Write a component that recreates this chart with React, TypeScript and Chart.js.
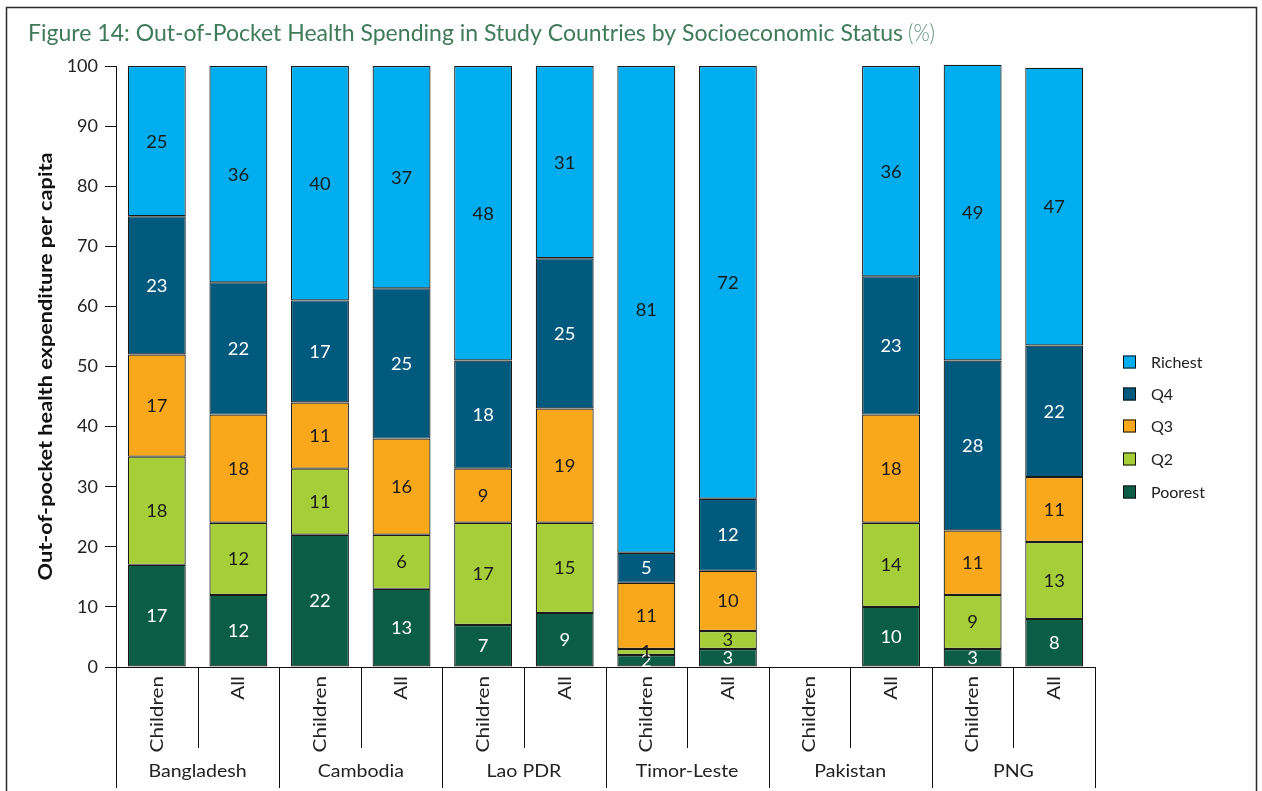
import React, { useEffect, useRef } from "react";
import { Chart, registerables } from "chart.js";
Chart.register(...registerables);

const COUNTRIES = ["Bangladesh", "Cambodia", "Lao PDR", "Timor-Leste", "Pakistan", "PNG"];
const GROUPS = ["Children", "All"];
const CATEGORIES = COUNTRIES.flatMap((c) => GROUPS.map((g) => `${c} ${g}`));

const SERIES = ["Poorest", "Q2", "Q3", "Q4", "Richest"];
const COLORS = ["#0b5e45", "#a6ce39", "#f9a81b", "#005a7e", "#00aeef"];
const LABEL_COLORS = ["#ffffff", "#1a1a1a", "#1a1a1a", "#ffffff", "#1a1a1a"];

// segment heights as drawn (%)
const POOREST = [17, 12, 22, 13, 7, 9, 2, 3, null, 10, 3, 8];
const Q2 = [18, 12, 11, 9, 17, 15, 1, 3, null, 14, 9, 12.8];
const Q3 = [17, 18, 11, 16, 9, 19, 11, 10, null, 18, 10.7, 10.8];
const Q4 = [23, 22, 17, 25, 18, 25, 5, 12, null, 23, 28.3, 21.9];
const RICHEST = [25, 36, 39, 37, 49, 32, 81, 72, null, 35, 49.2, 46.2];

// printed value labels
const POOREST_LBL = [17, 12, 22, 13, 7, 9, 2, 3, null, 10, 3, 8];
const Q2_LBL = [18, 12, 11, 6, 17, 15, 1, 3, null, 14, 9, 13];
const Q3_LBL = [17, 18, 11, 16, 9, 19, 11, 10, null, 18, 11, 11];
const Q4_LBL = [23, 22, 17, 25, 18, 25, 5, 12, null, 23, 28, 22];
const RICHEST_LBL = [25, 36, 40, 37, 48, 31, 81, 72, null, 36, 49, 47];

const VALUES = [POOREST, Q2, Q3, Q4, RICHEST];
const LABELS = [POOREST_LBL, Q2_LBL, Q3_LBL, Q4_LBL, RICHEST_LBL];

const TITLE = "Figure 14: Out-of-Pocket Health Spending in Study Countries by Socioeconomic Status";
const TITLE_UNIT = "(%)";
const Y_TITLE = "Out-of-pocket health expenditure per capita";
const Y_TICKS_MAX = 100;
const Y_STEP = 10;

const FONT = "Lato, 'DejaVu Sans', sans-serif";
const WIDE = 1.15;

const decoPlugin = {
  id: "deco",
  afterDatasetsDraw(chart: any) {
    const ctx = chart.ctx;
    ctx.save();
    ctx.textAlign = "center";
    ctx.textBaseline = "middle";
    ctx.font = `17px ${FONT}`;
    chart.data.datasets.forEach((ds: any, di: number) => {
      const meta = chart.getDatasetMeta(di);
      meta.data.forEach((el: any, i: number) => {
        const lbl = LABELS[di][i];
        if (lbl === null || lbl === undefined) return;
        ctx.fillStyle = LABEL_COLORS[di];
        ctx.save();
        ctx.translate(el.x, (el.y + el.base) / 2 + 1);
        ctx.scale(1.08, 1);
        ctx.fillText(String(lbl), 0, 0);
        ctx.restore();
      });
    });
    ctx.restore();
  },
  afterDraw(chart: any) {
    const ctx = chart.ctx;
    const { left, right, bottom } = chart.chartArea;
    const xs = chart.scales.x;
    ctx.save();
    // frame
    ctx.strokeStyle = "#2b2b2b";
    ctx.lineWidth = 1.5;
    ctx.beginPath();
    ctx.moveTo(6.5, 800);
    ctx.lineTo(6.5, 7.5);
    ctx.lineTo(1256.5, 7.5);
    ctx.lineTo(1256.5, 800);
    ctx.stroke();

    // title
    ctx.textBaseline = "alphabetic";
    ctx.textAlign = "left";
    ctx.font = `23px ${FONT}`;
    const mainW = ctx.measureText(TITLE).width;
    const sx = 875 / mainW;
    ctx.save();
    ctx.translate(28, 41);
    ctx.scale(sx, 1);
    ctx.fillStyle = "#3f7a5a";
    ctx.fillText(TITLE, 0, 0);
    ctx.restore();
    ctx.font = `300 23px ${FONT}`;
    const uW = ctx.measureText(TITLE_UNIT).width;
    ctx.save();
    ctx.translate(908, 41);
    ctx.scale(27 / uW, 1);
    ctx.fillStyle = "#5f9277";
    ctx.fillText(TITLE_UNIT, 0, 0);
    ctx.restore();

    // y title
    ctx.save();
    ctx.font = `bold 19px ${FONT}`;
    const yw = ctx.measureText(Y_TITLE).width;
    ctx.translate(46, (chart.chartArea.top + bottom) / 2);
    ctx.rotate(-Math.PI / 2);
    ctx.scale(428 / yw, 1);
    ctx.fillStyle = "#111";
    ctx.textAlign = "center";
    ctx.textBaseline = "middle";
    ctx.fillText(Y_TITLE, 0, 0);
    ctx.restore();

    // x axis line + separators
    ctx.strokeStyle = "#111";
    ctx.lineWidth = 1;
    const n = CATEGORIES.length;
    const slot = (right - left) / n;
    ctx.beginPath();
    ctx.moveTo(left, Math.round(bottom) + 0.5);
    ctx.lineTo(right, Math.round(bottom) + 0.5);
    for (let i = 0; i <= n; i++) {
      const xx = Math.round(left + i * slot) + 0.5;
      const long = i % GROUPS.length === 0;
      ctx.moveTo(xx, bottom);
      ctx.lineTo(xx, long ? 788 : 748);
    }
    ctx.stroke();

    // sub labels
    ctx.fillStyle = "#222";
    ctx.font = `18px ${FONT}`;
    CATEGORIES.forEach((c, i) => {
      const cx = xs.getPixelForValue(i);
      ctx.save();
      ctx.translate(cx, bottom + 9);
      ctx.rotate(-Math.PI / 2);
      ctx.scale(WIDE, 1);
      ctx.textAlign = "right";
      ctx.textBaseline = "middle";
      ctx.fillText(GROUPS[i % GROUPS.length], 0, 0);
      ctx.restore();
    });
    // country labels
    ctx.font = `17px ${FONT}`;
    ctx.textAlign = "center";
    ctx.textBaseline = "middle";
    COUNTRIES.forEach((c, gi) => {
      const cx = left + (gi * GROUPS.length + GROUPS.length / 2) * slot;
      ctx.save();
      ctx.translate(cx, 772);
      ctx.scale(WIDE, 1);
      ctx.fillText(c, 0, 0);
      ctx.restore();
    });

    // legend
    const order = [4, 3, 2, 1, 0];
    const ly = [362, 394, 426, 459, 492];
    ctx.font = `16px ${FONT}`;
    ctx.textAlign = "left";
    order.forEach((si, k) => {
      ctx.fillStyle = COLORS[si];
      ctx.fillRect(1123, ly[k] - 6.5, 13, 13);
      ctx.strokeStyle = "#111";
      ctx.lineWidth = 1;
      ctx.strokeRect(1123.5, ly[k] - 6, 12, 12);
      ctx.fillStyle = "#222";
      ctx.fillText(SERIES[si], 1151, ly[k] + 1);
    });
    ctx.restore();
  },
};

export default function App() {
  const ref = useRef<HTMLCanvasElement>(null);
  useEffect(() => {
    if (!ref.current) return;
    const chart = new Chart(ref.current, {
      type: "bar",
      data: {
        labels: CATEGORIES,
        datasets: SERIES.map((s, i) => ({
          label: s,
          data: VALUES[i] as any,
          backgroundColor: COLORS[i],
          borderColor: "#1a1a1a",
          borderWidth: 1.2,
          borderSkipped: false,
          categoryPercentage: 1,
          barPercentage: 0.71,
          clip: false as any,
        })),
      },
      options: {
        responsive: false,
        devicePixelRatio: 1,
        animation: false,
        layout: { padding: { left: 0, top: 66, right: 167, bottom: 124 } },
        plugins: { legend: { display: false }, tooltip: { enabled: false }, title: { display: false } },
        scales: {
          x: { stacked: true, display: false },
          y: {
            stacked: true,
            min: 0,
            max: Y_TICKS_MAX,
            afterFit: (s: any) => {
              s.width = 116;
            },
            ticks: {
              stepSize: Y_STEP,
              padding: 7,
              color: "#222",
              font: { family: FONT, size: 18 },
            },
            grid: { drawOnChartArea: false, drawTicks: true, tickLength: 11, color: "#111", lineWidth: 1 },
            border: { display: true, color: "#111", width: 1 },
          },
        },
      },
      plugins: [decoPlugin],
    });
    return () => chart.destroy();
  }, []);
  return (
    <div style={{ position: "absolute", left: 0, top: 0, width: 1262, height: 791, background: "#fff" }}>
      <canvas ref={ref} width={1262} height={791} style={{ width: 1262, height: 791, display: "block" }} />
    </div>
  );
}
